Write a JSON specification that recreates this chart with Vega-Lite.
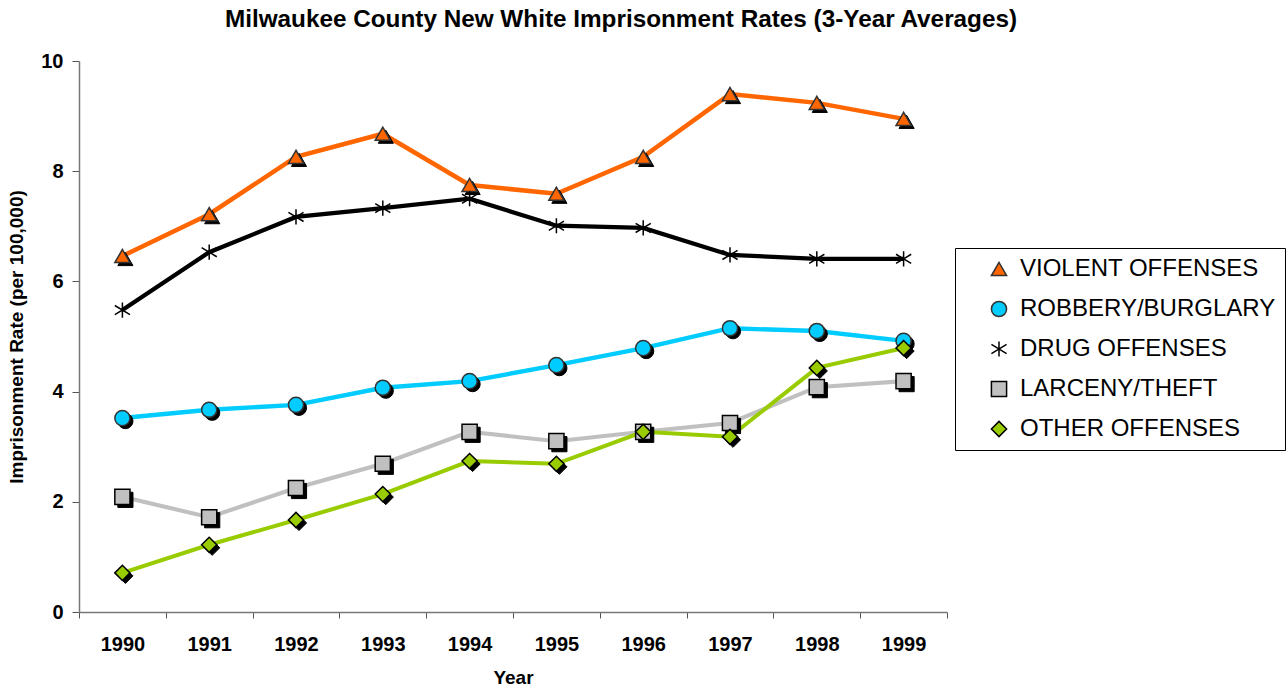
{
  "$schema": "https://vega.github.io/schema/vega-lite/v6.json",
  "autosize": {"type": "none"},
  "padding": {"left": 79, "top": 61, "right": 341, "bottom": 77},
  "width": 868,
  "height": 551,
  "background": "white",
  "title": {
    "text": "Milwaukee County New White Imprisonment Rates (3-Year Averages)",
    "font": "Liberation Sans",
    "fontSize": 24.3,
    "fontWeight": "bold",
    "color": "#000000",
    "anchor": "middle",
    "frame": "group",
    "dx": 108,
    "offset": 19
  },
  "data": {
    "values": [
      {"year": "1990", "series": "VIOLENT OFFENSES", "rate": 6.46},
      {"year": "1991", "series": "VIOLENT OFFENSES", "rate": 7.22},
      {"year": "1992", "series": "VIOLENT OFFENSES", "rate": 8.26},
      {"year": "1993", "series": "VIOLENT OFFENSES", "rate": 8.68},
      {"year": "1994", "series": "VIOLENT OFFENSES", "rate": 7.75},
      {"year": "1995", "series": "VIOLENT OFFENSES", "rate": 7.59},
      {"year": "1996", "series": "VIOLENT OFFENSES", "rate": 8.26},
      {"year": "1997", "series": "VIOLENT OFFENSES", "rate": 9.40},
      {"year": "1998", "series": "VIOLENT OFFENSES", "rate": 9.24},
      {"year": "1999", "series": "VIOLENT OFFENSES", "rate": 8.95},
      {"year": "1990", "series": "ROBBERY/BURGLARY", "rate": 3.52},
      {"year": "1991", "series": "ROBBERY/BURGLARY", "rate": 3.67},
      {"year": "1992", "series": "ROBBERY/BURGLARY", "rate": 3.76},
      {"year": "1993", "series": "ROBBERY/BURGLARY", "rate": 4.07},
      {"year": "1994", "series": "ROBBERY/BURGLARY", "rate": 4.19},
      {"year": "1995", "series": "ROBBERY/BURGLARY", "rate": 4.48},
      {"year": "1996", "series": "ROBBERY/BURGLARY", "rate": 4.79},
      {"year": "1997", "series": "ROBBERY/BURGLARY", "rate": 5.15},
      {"year": "1998", "series": "ROBBERY/BURGLARY", "rate": 5.10},
      {"year": "1999", "series": "ROBBERY/BURGLARY", "rate": 4.92},
      {"year": "1990", "series": "DRUG OFFENSES", "rate": 5.48},
      {"year": "1991", "series": "DRUG OFFENSES", "rate": 6.53},
      {"year": "1992", "series": "DRUG OFFENSES", "rate": 7.17},
      {"year": "1993", "series": "DRUG OFFENSES", "rate": 7.33},
      {"year": "1994", "series": "DRUG OFFENSES", "rate": 7.50},
      {"year": "1995", "series": "DRUG OFFENSES", "rate": 7.01},
      {"year": "1996", "series": "DRUG OFFENSES", "rate": 6.97},
      {"year": "1997", "series": "DRUG OFFENSES", "rate": 6.48},
      {"year": "1998", "series": "DRUG OFFENSES", "rate": 6.41},
      {"year": "1999", "series": "DRUG OFFENSES", "rate": 6.41},
      {"year": "1990", "series": "LARCENY/THEFT", "rate": 2.09},
      {"year": "1991", "series": "LARCENY/THEFT", "rate": 1.72},
      {"year": "1992", "series": "LARCENY/THEFT", "rate": 2.25},
      {"year": "1993", "series": "LARCENY/THEFT", "rate": 2.69},
      {"year": "1994", "series": "LARCENY/THEFT", "rate": 3.27},
      {"year": "1995", "series": "LARCENY/THEFT", "rate": 3.10},
      {"year": "1996", "series": "LARCENY/THEFT", "rate": 3.27},
      {"year": "1997", "series": "LARCENY/THEFT", "rate": 3.43},
      {"year": "1998", "series": "LARCENY/THEFT", "rate": 4.08},
      {"year": "1999", "series": "LARCENY/THEFT", "rate": 4.19},
      {"year": "1990", "series": "OTHER OFFENSES", "rate": 0.71},
      {"year": "1991", "series": "OTHER OFFENSES", "rate": 1.22},
      {"year": "1992", "series": "OTHER OFFENSES", "rate": 1.67},
      {"year": "1993", "series": "OTHER OFFENSES", "rate": 2.14},
      {"year": "1994", "series": "OTHER OFFENSES", "rate": 2.74},
      {"year": "1995", "series": "OTHER OFFENSES", "rate": 2.69},
      {"year": "1996", "series": "OTHER OFFENSES", "rate": 3.27},
      {"year": "1997", "series": "OTHER OFFENSES", "rate": 3.18},
      {"year": "1998", "series": "OTHER OFFENSES", "rate": 4.43},
      {"year": "1999", "series": "OTHER OFFENSES", "rate": 4.79}
    ]
  },
  "encoding": {
    "x": {
      "field": "year",
      "type": "ordinal",
      "scale": {"type": "band", "paddingInner": 0, "paddingOuter": 0},
      "axis": {
        "title": "Year",
        "titleFont": "Liberation Sans",
        "titleFontSize": 19,
        "titleFontWeight": "bold",
        "titleColor": "#000000",
        "titlePadding": 14,
        "labelFont": "Liberation Sans",
        "labelFontSize": 20,
        "labelFontWeight": "bold",
        "labelColor": "#000000",
        "labelAngle": 0,
        "labelPadding": 16,
        "tickBand": "extent",
        "tickSize": 6,
        "tickColor": "#555555",
        "domainColor": "#777777",
        "domainWidth": 1.5,
        "grid": false
      }
    },
    "y": {
      "field": "rate",
      "type": "quantitative",
      "scale": {"domain": [0, 10], "nice": false},
      "axis": {
        "values": [0, 2, 4, 6, 8, 10],
        "title": "Imprisonment Rate (per 100,000)",
        "titleFont": "Liberation Sans",
        "titleFontSize": 19,
        "titleFontWeight": "bold",
        "titleColor": "#000000",
        "titlePadding": 14,
        "labelFont": "Liberation Sans",
        "labelFontSize": 20,
        "labelFontWeight": "bold",
        "labelColor": "#000000",
        "labelPadding": 9,
        "tickSize": 7,
        "tickColor": "#555555",
        "domainColor": "#777777",
        "domainWidth": 1.5,
        "grid": false
      }
    }
  },
  "layer": [
    {
      "mark": {"type": "line"},
      "encoding": {
        "color": {
          "field": "series",
          "type": "nominal",
          "scale": {
            "domain": ["OTHER OFFENSES", "LARCENY/THEFT", "DRUG OFFENSES", "ROBBERY/BURGLARY", "VIOLENT OFFENSES"],
            "range": ["#99CC00", "#C0C0C0", "#000000", "#00CCFF", "#FF6600"]
          },
          "legend": null
        },
        "strokeWidth": {
          "field": "series",
          "type": "nominal",
          "scale": {
            "domain": ["OTHER OFFENSES", "LARCENY/THEFT", "DRUG OFFENSES", "ROBBERY/BURGLARY", "VIOLENT OFFENSES"],
            "range": [4, 4.5, 2.5, 4.5, 4.5]
          },
          "legend": null
        }
      }
    },
    {
      "transform": [{"filter": "datum.series !== 'DRUG OFFENSES'"}],
      "mark": {"type": "point", "filled": true, "fill": "#000000", "stroke": "#000000", "strokeWidth": 1, "opacity": 1, "size": 230, "xOffset": 3, "yOffset": 3},
      "encoding": {
        "shape": {
          "field": "series",
          "type": "nominal",
          "title": null,
          "scale": {
            "domain": ["VIOLENT OFFENSES", "ROBBERY/BURGLARY", "DRUG OFFENSES", "LARCENY/THEFT", "OTHER OFFENSES"],
            "range": ["triangle-up", "circle", "M0,-1L0,1M-1,-0.6L1,0.6M-1,0.6L1,-0.6", "square", "diamond"]
          }
        }
      }
    },
    {
      "mark": {"type": "point", "filled": true, "strokeWidth": 1.5, "opacity": 1, "size": 230},
      "encoding": {
        "shape": {
          "field": "series",
          "type": "nominal",
          "title": null,
          "scale": {
            "domain": ["VIOLENT OFFENSES", "ROBBERY/BURGLARY", "DRUG OFFENSES", "LARCENY/THEFT", "OTHER OFFENSES"],
            "range": ["triangle-up", "circle", "M0,-1L0,1M-1,-0.6L1,0.6M-1,0.6L1,-0.6", "square", "diamond"]
          }
        },
        "fill": {
          "field": "series",
          "type": "nominal",
          "title": null,
          "scale": {
            "domain": ["VIOLENT OFFENSES", "ROBBERY/BURGLARY", "DRUG OFFENSES", "LARCENY/THEFT", "OTHER OFFENSES"],
            "range": ["#FF6600", "#00CCFF", "#000000", "#C0C0C0", "#99CC00"]
          }
        },
        "stroke": {
          "field": "series",
          "type": "nominal",
          "title": null,
          "scale": {
            "domain": ["VIOLENT OFFENSES", "ROBBERY/BURGLARY", "DRUG OFFENSES", "LARCENY/THEFT", "OTHER OFFENSES"],
            "range": ["#333333", "#333333", "#000000", "#000000", "#000000"]
          }
        }
      }
    }
  ],
  "config": {
    "font": "Liberation Sans",
    "view": {"stroke": null},
    "legend": {
      "orient": "none",
      "legendX": 876,
      "legendY": 187,
      "strokeColor": "#000000",
      "padding": 9,
      "symbolOffset": 23,
      "labelOffset": 9,
      "labelFont": "Liberation Sans",
      "labelFontSize": 24,
      "labelColor": "#000000",
      "rowPadding": 16,
      "symbolSize": 230,
      "symbolStrokeWidth": 1.5,
      "labelLimit": 400
    }
  }
}
